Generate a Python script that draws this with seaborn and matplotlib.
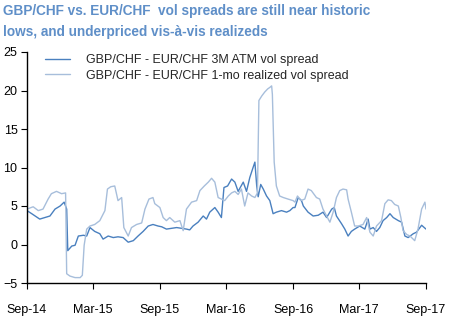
import matplotlib
matplotlib.use("Agg")
import matplotlib.pyplot as plt
import matplotlib.dates as mdates
import pandas as pd
import seaborn as sns

atm_dates = ["2014-09-01", "2014-09-14", "2014-10-06", "2014-10-20", "2014-11-03", "2014-11-17",
             "2014-12-01", "2014-12-12", "2014-12-19", "2014-12-22", "2015-01-02", "2015-01-11",
             "2015-01-20", "2015-02-03", "2015-02-12", "2015-02-21", "2015-03-06", "2015-03-20",
             "2015-03-29", "2015-04-12", "2015-04-26", "2015-05-09", "2015-05-23", "2015-06-06",
             "2015-06-20", "2015-07-03", "2015-07-17", "2015-07-31", "2015-08-13", "2015-08-27",
             "2015-09-06", "2015-09-19", "2015-10-03", "2015-10-17", "2015-10-31", "2015-11-13",
             "2015-11-22", "2015-12-01", "2015-12-15", "2015-12-29", "2016-01-07", "2016-01-16",
             "2016-01-30", "2016-02-08", "2016-02-17", "2016-02-24", "2016-03-05", "2016-03-16",
             "2016-03-25", "2016-04-03", "2016-04-17", "2016-04-26", "2016-05-05", "2016-05-14",
             "2016-05-19", "2016-05-24", "2016-05-28", "2016-06-04", "2016-06-11", "2016-06-20",
             "2016-06-29", "2016-07-08", "2016-07-17", "2016-07-31", "2016-08-14", "2016-08-23",
             "2016-09-01", "2016-09-06", "2016-09-15", "2016-09-24", "2016-09-29", "2016-10-12",
             "2016-10-26", "2016-11-09", "2016-11-22", "2016-12-02", "2016-12-16", "2016-12-23",
             "2016-12-29", "2017-01-12", "2017-01-21", "2017-01-30", "2017-02-08", "2017-02-17",
             "2017-03-03", "2017-03-17", "2017-03-26", "2017-03-31", "2017-04-09", "2017-04-18",
             "2017-04-27", "2017-05-06", "2017-05-16", "2017-05-25", "2017-06-03", "2017-06-17",
             "2017-06-26", "2017-07-05", "2017-07-14", "2017-07-28", "2017-08-06", "2017-08-20",
             "2017-09-01"]
atm_values = [4.4, 4.0, 3.3, 3.5, 3.7, 4.6,
              5.0, 5.5, 4.6, -0.8, -0.2, -0.1,
              1.1, 1.2, 1.1, 2.2, 1.7, 1.4,
              0.7, 1.1, 0.9, 1.0, 0.9, 0.3,
              0.5, 1.1, 1.7, 2.4, 2.6, 2.4,
              2.3, 2.0, 2.1, 2.2, 2.1, 2.0,
              1.9, 2.4, 2.9, 3.7, 3.3, 4.2,
              4.8, 4.2, 3.5, 7.4, 7.6, 8.5,
              8.1, 6.9, 8.1, 6.9, 8.7, 10.0,
              10.7, 7.6, 6.2, 7.8, 7.2, 6.3,
              5.7, 4.0, 4.2, 4.4, 4.2, 4.4,
              4.8, 4.8, 6.1, 5.7, 5.0, 4.2,
              3.7, 3.8, 4.2, 3.5, 4.6, 4.8,
              3.7, 2.7, 2.0, 1.1, 1.7, 2.0,
              2.4, 2.0, 3.3, 2.0, 2.2, 1.7,
              2.2, 3.1, 3.5, 4.0, 3.5, 3.1,
              2.9, 1.1, 0.9, 1.4, 1.6, 2.5,
              2.0]

real_dates = ["2014-09-01", "2014-09-18", "2014-10-02", "2014-10-15", "2014-10-29", "2014-11-07",
              "2014-11-21", "2014-12-05", "2014-12-16", "2014-12-19", "2014-12-28", "2015-01-11",
              "2015-01-25", "2015-01-31", "2015-02-05", "2015-02-12", "2015-02-21", "2015-03-06",
              "2015-03-20", "2015-04-03", "2015-04-10", "2015-04-19", "2015-04-30", "2015-05-09",
              "2015-05-19", "2015-05-25", "2015-06-06", "2015-06-15", "2015-06-29", "2015-07-13",
              "2015-07-22", "2015-08-02", "2015-08-13", "2015-08-18", "2015-09-01", "2015-09-10",
              "2015-09-19", "2015-09-28", "2015-10-12", "2015-10-26", "2015-11-04", "2015-11-13",
              "2015-11-27", "2015-12-11", "2015-12-20", "2016-01-01", "2016-01-12", "2016-01-21",
              "2016-01-30", "2016-02-08", "2016-02-17", "2016-02-26", "2016-03-07", "2016-03-16",
              "2016-03-25", "2016-04-03", "2016-04-12", "2016-04-21", "2016-04-30", "2016-05-10",
              "2016-05-19", "2016-05-26", "2016-05-30", "2016-06-07", "2016-06-15", "2016-06-23",
              "2016-06-29", "2016-07-04", "2016-07-06", "2016-07-11", "2016-07-17", "2016-07-26",
              "2016-08-05", "2016-08-18", "2016-09-01", "2016-09-06", "2016-09-13", "2016-09-22",
              "2016-10-03", "2016-10-12", "2016-10-21", "2016-11-04", "2016-11-13", "2016-11-22",
              "2016-12-02", "2016-12-11", "2016-12-20", "2016-12-29", "2017-01-07", "2017-01-16",
              "2017-01-26", "2017-01-30", "2017-02-08", "2017-02-17", "2017-02-27", "2017-03-12",
              "2017-03-22", "2017-03-31", "2017-04-09", "2017-04-18", "2017-05-02", "2017-05-11",
              "2017-05-20", "2017-05-29", "2017-06-07", "2017-06-17", "2017-06-24", "2017-06-30",
              "2017-07-10", "2017-07-19", "2017-08-01", "2017-08-10", "2017-08-20", "2017-08-29",
              "2017-09-01"]
real_values = [4.6, 4.9, 4.4, 4.6, 5.9, 6.6,
               6.9, 6.6, 6.7, -3.8, -4.1, -4.3,
               -4.3, -4.0, -0.1, 2.0, 2.4, 2.6,
               3.1, 4.4, 7.2, 7.5, 7.6, 5.7,
               6.1, 2.2, 1.1, 2.2, 2.6, 2.8,
               4.6, 5.9, 6.1, 5.3, 4.8, 3.5,
               3.1, 3.5, 2.9, 3.1, 1.8, 4.6,
               5.5, 5.7, 7.0, 7.6, 8.1, 8.6,
               8.1, 6.1, 5.9, 5.7, 6.3, 6.7,
               6.9, 6.5, 7.2, 5.0, 6.7, 6.3,
               6.1, 6.7, 18.7, 19.3, 19.8, 20.2,
               20.4, 20.6, 19.5, 10.7, 7.6, 6.3,
               6.1, 5.9, 5.7, 5.5, 6.3, 5.7,
               5.9, 7.2, 7.0, 6.1, 5.9, 4.6,
               3.7, 2.9, 4.2, 6.1, 7.0, 7.2,
               7.1, 5.9, 4.2, 2.4, 2.4, 2.6,
               3.5, 1.6, 1.1, 2.4, 3.1, 5.3,
               5.8, 5.7, 5.2, 5.0, 3.5, 1.8,
               1.3, 1.1, 0.5, 2.0, 4.6, 5.5,
               4.6]

series_names = ["GBP/CHF - EUR/CHF 3M ATM vol spread",
                "GBP/CHF - EUR/CHF 1-mo realized vol spread"]
title_text = "GBP/CHF vs. EUR/CHF  vol spreads are still near historic\nlows, and underpriced vis-\u00e0-vis realizeds"
y_ticks = [-5, 0, 5, 10, 15, 20, 25]
x_tick_dates = ["2014-09-01", "2015-03-01", "2015-09-01", "2016-03-01",
                "2016-09-01", "2017-03-01", "2017-09-01"]

df = pd.concat([
    pd.DataFrame({"date": pd.to_datetime(atm_dates), "value": atm_values, "series": series_names[0]}),
    pd.DataFrame({"date": pd.to_datetime(real_dates), "value": real_values, "series": series_names[1]}),
])

sns.set_theme(style="white")
plt.rcParams["font.family"] = ["Liberation Sans", "DejaVu Sans"]

fig = plt.figure(figsize=(4.52, 3.22), dpi=100)
ax = fig.add_axes([27 / 452, 1 - 283 / 322, (426 - 27) / 452, (283 - 52) / 322])

palette = {series_names[0]: "#4a80bf", series_names[1]: "#a7bedb"}
sns.lineplot(data=df, x="date", y="value", hue="series", palette=palette,
             linewidth=1.0, ax=ax, hue_order=series_names)

ax.set_xlim(pd.Timestamp(x_tick_dates[0]), pd.Timestamp(x_tick_dates[-1]))
ax.set_ylim(-5, 25)
ax.set_yticks(y_ticks)
ax.set_xticks(pd.to_datetime(x_tick_dates))
ax.xaxis.set_major_formatter(mdates.DateFormatter("%b-%y"))
ax.set_xlabel("")
ax.set_ylabel("")

for s in ["top", "right"]:
    ax.spines[s].set_visible(False)
for s in ["left", "bottom"]:
    ax.spines[s].set_color("black")
    ax.spines[s].set_linewidth(1.0)

ax.tick_params(axis="y", which="major", direction="out", length=4.3, width=0.8,
               color="black", labelsize=9, pad=2.5, left=True, labelcolor="black")
ax.tick_params(axis="x", which="major", direction="out", length=4.3, width=0.8,
               color="black", labelsize=9, pad=11, bottom=True, labelcolor="black")

leg = ax.legend(loc="upper left", bbox_to_anchor=(45 / 452, 1 - 54 / 322),
                bbox_transform=fig.transFigure, frameon=False, fontsize=9,
                handlelength=2.0, handletextpad=1.3, labelspacing=0.28,
                borderaxespad=0, borderpad=0)
for line in leg.get_lines():
    line.set_linewidth(1.0)

fig.text(3 / 452, 1 - 4 / 322, title_text, ha="left", va="top", fontsize=9.8,
         fontweight="bold", color="#5f8fc8", linespacing=1.6)

fig.savefig("out.png", dpi=100)
